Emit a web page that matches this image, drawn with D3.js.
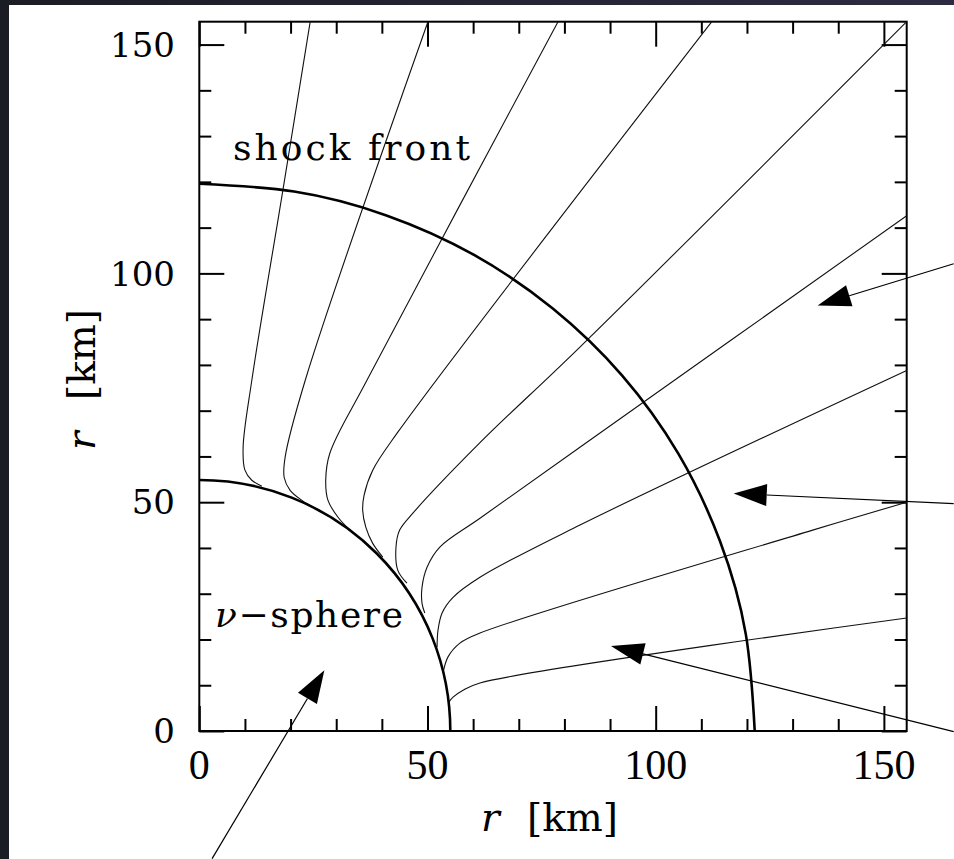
<!DOCTYPE html>
<html>
<head>
<meta charset="utf-8">
<script src="https://cdn.jsdelivr.net/npm/d3@7"></script>
<style>
  body { margin: 0; background: #1d1f27; }
  svg { display: block; }
</style>
</head>
<body>
<svg id="chart" width="954" height="859"></svg>
<script>
// ---- data (km) ----
var majorTicks = [0, 50, 100, 150];
var tickLabels = ["0", "50", "100", "150"];

// shock front radius by angle from the vertical axis (deg)
var shockAngle  = [0, 10, 20, 30, 40, 50, 60, 70, 80, 90];
var shockRadius = [119.6, 119.7, 119.9, 120.2, 120.5, 120.9, 121.2, 121.4, 121.6, 121.7];

// neutrino sphere radius
var sphereRadius = 55;

// field lines, outer end first, ending where they merge into the nu-sphere
var line1 = [[24.3,155],[18.3,118.1],[11.5,76.6],[9.6,62.0],[10.0,57.0],[11.5,54.8],[13.7,53.5]];
var line2 = [[50.1,155],[23.2,76.6],[18.8,59.8],[18.6,55.4],[19.9,52.6],[22.5,50.4],[24.9,48.9]];
var line3 = [[78.6,155],[36.7,76.6],[28.6,60.7],[27.7,54.8],[28.2,50.4],[30.4,46.7],[33.0,43.9]];
var line4 = [[112.3,155],[43.5,65.3],[38.0,57.0],[36.1,51.5],[35.8,48.2],[36.5,44.5],[38.0,41.0],[40.2,38.0]];
var line5 = [[155,155],[83.4,83.9],[61.5,63.0],[46.8,47.6],[43.9,43.9],[43.1,40.2],[43.5,35.1],[45.5,32.3]];
var line6 = [[155,112.6],[83.4,62.0],[61.5,46.5],[52.7,40.2],[49.9,35.8],[48.8,31.4],[48.8,27.9],[49.4,25.8]];
var line7 = [[155,78.8],[83.4,45.0],[61.5,33.6],[55.6,29.2],[53.2,25.8],[52.3,22.0],[52.1,18.3]];
var line8 = [[155,50.0],[134.4,43.9],[61.5,21.4],[57.1,19.2],[54.5,16.2],[53.4,12.7]];
var line9 = [[155,24.7],[61.5,10.5],[57.8,8.9],[55.6,7.4],[54.7,6.3]];
var fieldLines = [line1, line2, line3, line4, line5, line6, line7, line8, line9];

// annotation arrows: [tail, tip] in km (tails sit outside the frame)
var arrows = [
  [[165.3, 102.1], [135.5, 93.0]],
  [[165.3, 49.7],  [117.1, 51.9]],
  [[165.3, -0.15], [90.2, 18.6]],
  [[2.8, -27.9],   [27.4, 13.3]]
];

// ---- drawing ----
var svg = d3.select("#chart");

var grad = svg.append("defs").append("linearGradient")
    .attr("id", "bg").attr("x1", 0).attr("x2", 1);
grad.append("stop").attr("offset", "0%").attr("stop-color", "#1b1d24");
grad.append("stop").attr("offset", "100%").attr("stop-color", "#2c2b42");

svg.append("rect").attr("width", 954).attr("height", 859).attr("fill", "url(#bg)");
svg.append("rect").attr("x", 9).attr("y", 5).attr("width", 945).attr("height", 854).attr("fill", "#fff");

var x = d3.scaleLinear().domain([0, 155]).range([199.3, 906.7]);
var y = d3.scaleLinear().domain([0, 155]).range([731, 21.7]);

var minorTicks = x.ticks(15).filter(function (v) { return v % 50 !== 0; });

// the four sides of the frame, ticks pointing inwards
var sides = [
  [function () { return d3.axisBottom(x); }, "translate(0," + y(0) + ")"],
  [function () { return d3.axisTop(x); }, "translate(0," + y(155) + ")"],
  [function () { return d3.axisLeft(y); }, "translate(" + x(0) + ",0)"],
  [function () { return d3.axisRight(y); }, "translate(" + x(155) + ",0)"]
];
sides.forEach(function (s) {
  [[-12, minorTicks], [-25, majorTicks]].forEach(function (t) {
    var g = svg.append("g").attr("transform", s[1])
      .call(s[0]().tickValues(t[1]).tickSize(t[0]).tickSizeOuter(0).tickFormat(""));
    g.select(".domain").remove();
    g.selectAll(".tick line").attr("stroke", "#000").attr("stroke-width", 2);
  });
});

// tick labels
svg.append("g").selectAll("text")
  .data(majorTicks)
  .enter().append("text")
  .attr("x", function (d) { return x(d); })
  .attr("y", 779)
  .attr("text-anchor", "middle")
  .attr("font-family", "Liberation Serif, serif")
  .attr("font-size", 42)
  .text(function (d, i) { return tickLabels[i]; });

svg.append("g").selectAll("text")
  .data(majorTicks)
  .enter().append("text")
  .attr("x", 175)
  .attr("y", function (d) { return y(d); })
  .attr("dy", "0.36em")
  .attr("text-anchor", "end")
  .attr("font-family", "DejaVu Serif, serif")
  .attr("font-size", 34)
  .text(function (d, i) { return tickLabels[i]; });

// frame
svg.append("rect")
  .attr("x", x(0)).attr("y", y(155))
  .attr("width", x(155) - x(0)).attr("height", y(0) - y(155))
  .attr("fill", "none").attr("stroke", "#000").attr("stroke-width", 2);

var line = d3.line()
  .x(function (d) { return x(d[0]); })
  .y(function (d) { return y(d[1]); })
  .curve(d3.curveCatmullRom.alpha(0.5));

svg.append("g").selectAll("path")
  .data(fieldLines)
  .enter().append("path")
  .attr("d", line)
  .attr("fill", "none")
  .attr("stroke", "#111")
  .attr("stroke-width", 1.1);

// shock front
var shockPts = shockAngle.map(function (a, i) {
  var t = a * Math.PI / 180;
  return [shockRadius[i] * Math.sin(t), shockRadius[i] * Math.cos(t)];
});
svg.append("path")
  .attr("d", line.curve(d3.curveNatural)(shockPts))
  .attr("fill", "none").attr("stroke", "#000").attr("stroke-width", 2.6);

// nu-sphere, a quarter circle about the origin
var sp = d3.path();
sp.arc(x(0), y(0), x(sphereRadius) - x(0), -Math.PI / 2, 0);
svg.append("path")
  .attr("d", sp.toString())
  .attr("fill", "none").attr("stroke", "#000").attr("stroke-width", 2.6);

// arrows
var headLen = 33, headHalf = 11;
arrows.forEach(function (a) {
  var x0 = x(a[0][0]), y0 = y(a[0][1]), x1 = x(a[1][0]), y1 = y(a[1][1]);
  var dx = x1 - x0, dy = y1 - y0, len = Math.sqrt(dx * dx + dy * dy);
  var ux = dx / len, uy = dy / len;
  var bx = x1 - ux * headLen, by = y1 - uy * headLen;
  svg.append("line")
    .attr("x1", x0).attr("y1", y0).attr("x2", bx).attr("y2", by)
    .attr("stroke", "#000").attr("stroke-width", 1.2);
  svg.append("polygon")
    .attr("points", [[x1, y1], [bx - uy * headHalf, by + ux * headHalf], [bx + uy * headHalf, by - ux * headHalf]].join(" "))
    .attr("fill", "#000");
});

// labels
svg.append("text")
  .attr("x", 233).attr("y", 160)
  .attr("font-family", "DejaVu Serif, serif").attr("font-size", 36)
  .attr("textLength", 237).attr("lengthAdjust", "spacing")
  .text("shock front");

var nu = svg.append("text")
  .attr("x", 215).attr("y", 627)
  .attr("font-family", "DejaVu Serif, serif").attr("font-size", 36)
  .attr("textLength", 188).attr("lengthAdjust", "spacing");
nu.append("tspan").attr("font-style", "italic").text("ν");
nu.append("tspan").text("−sphere");

var xt = svg.append("text")
  .attr("x", 481).attr("y", 831)
  .attr("font-family", "DejaVu Serif, serif").attr("font-size", 39);
xt.append("tspan").attr("font-style", "italic").text("r");
xt.append("tspan").attr("x", 527).text("[km]");

var yt = svg.append("text")
  .attr("transform", "translate(95,450) rotate(-90)")
  .attr("font-family", "DejaVu Serif, serif").attr("font-size", 39);
yt.append("tspan").attr("font-style", "italic").text("r");
yt.append("tspan").attr("x", 50).text("[km]");
</script>
</body>
</html>
